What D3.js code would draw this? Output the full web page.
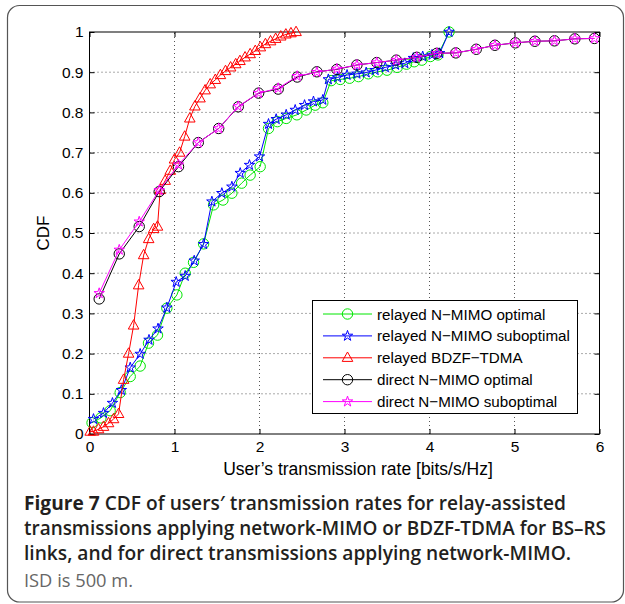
<!DOCTYPE html>
<html><head><meta charset="utf-8">
<script src="https://cdn.jsdelivr.net/npm/d3@7"></script>
<style>body{margin:0;background:#fff}svg{display:block}</style>
</head><body>
<svg id="c" width="625" height="604"></svg>
<script>
// ---------- data ----------
const xTicks = [0,1,2,3,4,5,6];
const yTicks = [0,0.1,0.2,0.3,0.4,0.5,0.6,0.7,0.8,0.9,1];
const seriesNames = ["relayed N\u2212MIMO optimal","relayed N\u2212MIMO suboptimal","relayed BDZF\u2212TDMA","direct N\u2212MIMO optimal","direct N\u2212MIMO suboptimal"];

const relOptX = [0.03,0.134,0.243,0.361,0.479,0.596,0.694,0.8,0.91,1.028,1.126,1.224,1.342,1.46,1.57,1.675,1.79,1.89,2.008,2.106,2.21,2.314,2.44,2.55,2.655,2.745,2.843,2.95,3.06,3.165,3.28,3.39,3.5,3.62,3.73,3.82,3.91,4.01,4.1,4.23];
const relOptY = [0.028,0.04,0.058,0.103,0.143,0.169,0.226,0.246,0.313,0.346,0.4,0.427,0.473,0.57,0.582,0.599,0.624,0.644,0.665,0.76,0.777,0.785,0.794,0.806,0.818,0.824,0.879,0.882,0.885,0.889,0.896,0.901,0.905,0.912,0.92,0.926,0.93,0.939,0.943,1.0];

const relSubX = [0.047,0.165,0.27,0.375,0.479,0.596,0.70,0.806,0.91,1.02,1.126,1.232,1.342,1.44,1.557,1.675,1.773,1.882,2.0,2.106,2.196,2.314,2.42,2.53,2.635,2.745,2.81,2.918,3.03,3.146,3.255,3.36,3.48,3.6,3.71,3.81,3.92,4.03,4.12,4.23];
const relSubY = [0.037,0.052,0.077,0.109,0.165,0.199,0.234,0.262,0.314,0.378,0.393,0.431,0.472,0.578,0.599,0.615,0.649,0.669,0.69,0.771,0.783,0.794,0.806,0.818,0.827,0.831,0.882,0.887,0.893,0.896,0.899,0.905,0.912,0.918,0.922,0.935,0.939,0.943,0.947,1.0];

const bdzfX = [0.008,0.047,0.106,0.165,0.224,0.283,0.342,0.401,0.46,0.519,0.578,0.637,0.696,0.755,0.80,0.832,0.89,0.95,1.0,1.06,1.12,1.18,1.24,1.30,1.36,1.42,1.48,1.54,1.6,1.66,1.72,1.77,1.83,1.89,1.95,2.01,2.07,2.13,2.19,2.25,2.31,2.37,2.43];
const bdzfY = [0.006,0.006,0.012,0.018,0.027,0.037,0.05,0.135,0.2,0.27,0.37,0.445,0.485,0.51,0.516,0.607,0.63,0.655,0.683,0.70,0.74,0.785,0.815,0.835,0.855,0.87,0.881,0.893,0.903,0.912,0.92,0.928,0.937,0.945,0.953,0.962,0.97,0.977,0.983,0.989,0.994,0.997,1.0];

const dirX = [0.114,0.35,0.585,0.82,1.047,1.28,1.52,1.75,1.99,2.22,2.444,2.675,2.91,3.146,3.38,3.61,3.85,4.087,4.31,4.55,4.77,5.01,5.24,5.47,5.71,5.94];
const dirOptY = [0.336,0.448,0.516,0.603,0.665,0.725,0.76,0.814,0.848,0.858,0.888,0.901,0.907,0.918,0.924,0.93,0.937,0.947,0.948,0.957,0.967,0.973,0.977,0.978,0.983,0.984];
const dirSubY = [0.35,0.458,0.528,0.606,0.67,0.725,0.76,0.815,0.848,0.86,0.89,0.9,0.908,0.918,0.924,0.93,0.937,0.947,0.948,0.957,0.967,0.973,0.977,0.978,0.983,0.984];

const captionLines = [
  [["Figure 7",700],[" CDF of users\u2032 transmission rates for relay-assisted",600]],
  [["transmissions applying network-MIMO or BDZF-TDMA for BS\u2013RS",600]],
  [["links, and for direct transmissions applying network-MIMO.",600]]
];
const captionNote = "ISD is 500 m.";

// ---------- drawing ----------
const svg = d3.select("#c");
const L=89.5, R=599.5, T=32, B=434;
const x = d3.scaleLinear().domain([0,6]).range([L,R]);
const y = d3.scaleLinear().domain([0,1]).range([B,T]);

// frame
svg.append("rect").attr("x",7.5).attr("y",5.5).attr("width",616).attr("height",596.5)
  .attr("rx",12).attr("fill","none").attr("stroke","#555").attr("stroke-width",1.2);

const font = "'Liberation Sans', Arial, sans-serif";
// grid
const g = svg.append("g");
g.selectAll(".gx").data(xTicks.slice(1,-1)).join("line")
  .attr("x1",d=>x(d)).attr("x2",d=>x(d)).attr("y1",B).attr("y2",T)
  .attr("stroke","#555").attr("stroke-dasharray","1,3").attr("stroke-width",1);
g.selectAll(".gy").data(yTicks.slice(1,-1)).join("line")
  .attr("y1",d=>y(d)).attr("y2",d=>y(d)).attr("x1",L).attr("x2",R)
  .attr("stroke","#555").attr("stroke-dasharray","1,3").attr("stroke-width",1);

// axes (inner ticks all sides)
const ax = (axis, tr) => svg.append("g").attr("transform",tr).call(axis)
  .call(s=>s.select(".domain").remove());
const axB = ax(d3.axisBottom(x).tickValues(xTicks).tickSize(-5).tickPadding(7).tickFormat(d3.format("d")), `translate(0,${B})`);
ax(d3.axisTop(x).tickValues(xTicks).tickSize(-5).tickFormat(""), `translate(0,${T})`);
const axL = ax(d3.axisLeft(y).tickValues(yTicks).tickSize(-5).tickPadding(6).tickFormat(d=>d===0?"0":d===1?"1":d3.format(".1f")(d)), `translate(${L},0)`);
ax(d3.axisRight(y).tickValues(yTicks).tickSize(-5).tickFormat(""), `translate(${R},0)`);
[axB,axL].forEach(a=>a.selectAll("text").attr("font-family",font).attr("font-size",15.5).attr("fill","#000"));
svg.selectAll(".tick line").attr("stroke","#000");
svg.append("rect").attr("x",L).attr("y",T).attr("width",R-L).attr("height",B-T)
  .attr("fill","none").attr("stroke","#000").attr("stroke-width",1);

// markers
function marker(sel, type, color){
  if(type==="circle") sel.append("circle").attr("r",5.2).attr("fill","none").attr("stroke",color);
  else if(type==="star") sel.append("path").attr("d",d3.symbol(d3.symbolStar,34)()).attr("fill","none").attr("stroke",color);
  else sel.append("path").attr("d","M0,-5.8L5.3,3.6L-5.3,3.6Z").attr("fill","none").attr("stroke",color);
}
const series = [
  {xs:relOptX, ys:relOptY, color:"#00e600", m:"circle"},
  {xs:relSubX, ys:relSubY, color:"#0000ff", m:"star"},
  {xs:bdzfX, ys:bdzfY, color:"#ff0000", m:"tri"},
  {xs:dirX, ys:dirOptY, color:"#000000", m:"circle"},
  {xs:dirX, ys:dirSubY, color:"#ff00ff", m:"star"}
];
const line = d3.line().x(d=>x(d[0])).y(d=>y(d[1]));
series.forEach(s=>{
  const pts = s.xs.map((v,i)=>[v,s.ys[i]]);
  const gg = svg.append("g");
  gg.append("path").attr("d",line(pts)).attr("fill","none").attr("stroke",s.color).attr("stroke-width",1);
  gg.selectAll("g").data(pts).join("g").attr("transform",d=>`translate(${x(d[0])},${y(d[1])})`)
    .each(function(){ marker(d3.select(this), s.m, s.color); });
});

// axis labels
svg.append("text").attr("x",358).attr("y",475).attr("text-anchor","middle")
  .attr("font-family",font).attr("font-size",17.5).text("User\u2019s transmission rate [bits/s/Hz]");
svg.append("text").attr("transform","translate(49,233) rotate(-90)").attr("text-anchor","middle")
  .attr("font-family",font).attr("font-size",17).text("CDF");

// legend
const lg = svg.append("g");
lg.append("rect").attr("x",312.5).attr("y",300.5).attr("width",265).attr("height",113)
  .attr("fill","#fff").attr("stroke","#000");
seriesNames.forEach((n,i)=>{
  const yy = 314 + i*21.9;
  const s = series[i];
  lg.append("line").attr("x1",323).attr("x2",372).attr("y1",yy).attr("y2",yy).attr("stroke",s.color);
  marker(lg.append("g").attr("transform",`translate(347.5,${yy})`), s.m, s.color);
  lg.append("text").attr("x",377).attr("y",yy+5.5).attr("font-family",font).attr("font-size",15.2).text(n);
});

// caption
const cf = "'Open Sans','Noto Sans',sans-serif";
const capY = [510,535,560];
const capW = [542,582,547];
captionLines.forEach((parts,i)=>{
  const t = svg.append("text").attr("x",24).attr("y",capY[i]).attr("font-family",cf).attr("font-size",19).attr("fill","#231f20")
    .attr("textLength",capW[i]).attr("lengthAdjust","spacingAndGlyphs");
  parts.forEach(p=>t.append("tspan").attr("font-weight",p[1]).text(p[0]));
});
svg.append("text").attr("x",24).attr("y",587).attr("font-family",cf).attr("font-size",19).attr("fill","#666")
  .attr("textLength",109).attr("lengthAdjust","spacingAndGlyphs").text(captionNote);
</script>
</body></html>
